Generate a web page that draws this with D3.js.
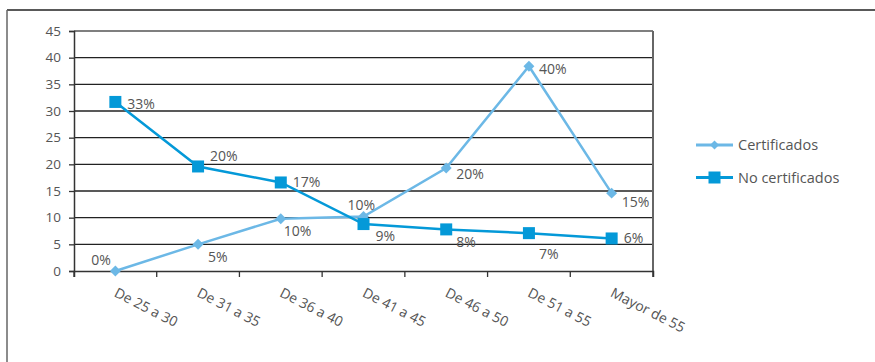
<!DOCTYPE html>
<html><head><meta charset="utf-8">
<script src="https://cdn.jsdelivr.net/npm/d3@7"></script>
<style>
body{margin:0;background:#fff;}
text{font-family:"Open Sans","Noto Sans",sans-serif;fill:#555;}
</style></head>
<body><svg id="c" width="875" height="362"></svg>
<script>
const categories = ["De 25 a 30","De 31 a 35","De 36 a 40","De 41 a 45","De 46 a 50","De 51 a 55","Mayor de 55"];
const certValues = [0, 5, 9.8, 10.2, 19.3, 38.4, 14.6];
const certLabels = ["0%","5%","10%","10%","20%","40%","15%"];
const noCertValues = [31.7, 19.6, 16.6, 8.8, 7.8, 7.1, 6.1];
const noCertLabels = ["33%","20%","17%","9%","8%","7%","6%"];
const yTicks = [0,5,10,15,20,25,30,35,40,45];
const seriesNames = ["Certificados","No certificados"];

const svg = d3.select("#c");
const L = 74, R = 653, T = 31, B = 271;
const x = d3.scaleBand().domain(categories).range([L, R]);
const y = d3.scaleLinear().domain([0, 45]).range([B, T]);
const cx = d => x(d) + x.bandwidth()/2;

// outer frame
svg.append("line").attr("x1",7).attr("x2",875).attr("y1",10).attr("y2",10).attr("stroke","#222").attr("stroke-width",1.3);
svg.append("line").attr("x1",7).attr("x2",7).attr("y1",10).attr("y2",362).attr("stroke","#666").attr("stroke-width",1.5);

// gridlines
svg.append("g").selectAll("line").data(yTicks.filter(t=>t>0)).join("line")
  .attr("x1",L).attr("x2",R).attr("y1",d=>y(d)).attr("y2",d=>y(d))
  .attr("stroke",d=>d===45?"#555":"#222").attr("stroke-width",1.3);
// right border
svg.append("line").attr("x1",R).attr("x2",R).attr("y1",T).attr("y2",B+6).attr("stroke","#666").attr("stroke-width",2);

// y axis
const yAxis = d3.axisLeft(y).tickValues(yTicks).tickSize(5).tickPadding(8);
const gy = svg.append("g").attr("transform",`translate(${L},0)`).call(yAxis);
gy.select(".domain").attr("stroke","#333").attr("stroke-width",1.5);
gy.selectAll(".tick line").attr("stroke","#333").attr("stroke-width",1.3);
gy.selectAll("text").style("font-size","13.5px").style("fill","#555").attr("font-family","Open Sans");

// x axis
const xAxis = d3.axisBottom(x).tickSize(6).tickFormat("");
const gx = svg.append("g").attr("transform",`translate(0,${B})`).call(xAxis);
gx.select(".domain").attr("stroke","#333").attr("stroke-width",1.5);
gx.selectAll(".tick").remove();
gx.selectAll("line.b").data(categories).join("line").attr("class","b")
  .attr("x1",d=>x(d)).attr("x2",d=>x(d)).attr("y1",0).attr("y2",6).attr("stroke","#333").attr("stroke-width",1.3);
gx.selectAll("text.xl").data(categories).join("text").attr("class","xl")
  .attr("text-anchor","start")
  .attr("transform",d=>`translate(${cx(d)+3},${15}) rotate(27)`)
  .attr("dy","0.8em").style("font-size","14px").text(d=>d);

const cCert = "#6cb8e6", cNo = "#0499d8";
const line = d3.line().x((d,i)=>cx(categories[i])).y(d=>y(d));

svg.append("path").datum(certValues).attr("d",line).attr("fill","none").attr("stroke",cCert).attr("stroke-width",2.5);
svg.append("path").datum(noCertValues).attr("d",line).attr("fill","none").attr("stroke",cNo).attr("stroke-width",2.5);

const diamond = d3.symbol().type(d3.symbolSquare).size(60);
svg.append("g").selectAll("path").data(certValues).join("path")
  .attr("d",diamond()).attr("fill",cCert)
  .attr("transform",(d,i)=>`translate(${cx(categories[i])},${y(d)}) rotate(45)`);
svg.append("g").selectAll("rect").data(noCertValues).join("rect")
  .attr("x",(d,i)=>cx(categories[i])-6).attr("y",d=>y(d)-6).attr("width",12).attr("height",12).attr("fill",cNo);

// data labels (offsets relative to marker)
const certOff = [[-24,-11],[10,13],[3,12],[-16,-12],[10,6],[10,3],[10,9]];
const noOff = [[12,2],[12,-10],[12,0],[12,12],[10,13],[10,21],[12,0]];
const fs = "14px";
svg.append("g").selectAll("text").data(certLabels).join("text")
  .attr("x",(d,i)=>cx(categories[i])+certOff[i][0]).attr("y",(d,i)=>y(certValues[i])+certOff[i][1])
  .attr("dy","0.35em").style("font-size",fs).text(d=>d);
svg.append("g").selectAll("text").data(noCertLabels).join("text")
  .attr("x",(d,i)=>cx(categories[i])+noOff[i][0]).attr("y",(d,i)=>y(noCertValues[i])+noOff[i][1])
  .attr("dy","0.35em").style("font-size",fs).text(d=>d);

// legend
const lg = svg.append("g");
[[cCert,145,"d"],[cNo,177.5,"s"]].forEach((s,i)=>{
  lg.append("line").attr("x1",696).attr("x2",733).attr("y1",s[1]).attr("y2",s[1]).attr("stroke",s[0]).attr("stroke-width",3);
  if(s[2]==="d") lg.append("path").attr("d",d3.symbol().type(d3.symbolSquare).size(40)()).attr("fill",s[0]).attr("transform",`translate(714.5,${s[1]}) rotate(45)`);
  else lg.append("rect").attr("x",708.5).attr("y",s[1]-6).attr("width",12).attr("height",12).attr("fill",s[0]);
  lg.append("text").attr("x",738).attr("y",s[1]).attr("dy","0.35em").style("font-size","14.5px").text(seriesNames[i]);
});
</script></body></html>
